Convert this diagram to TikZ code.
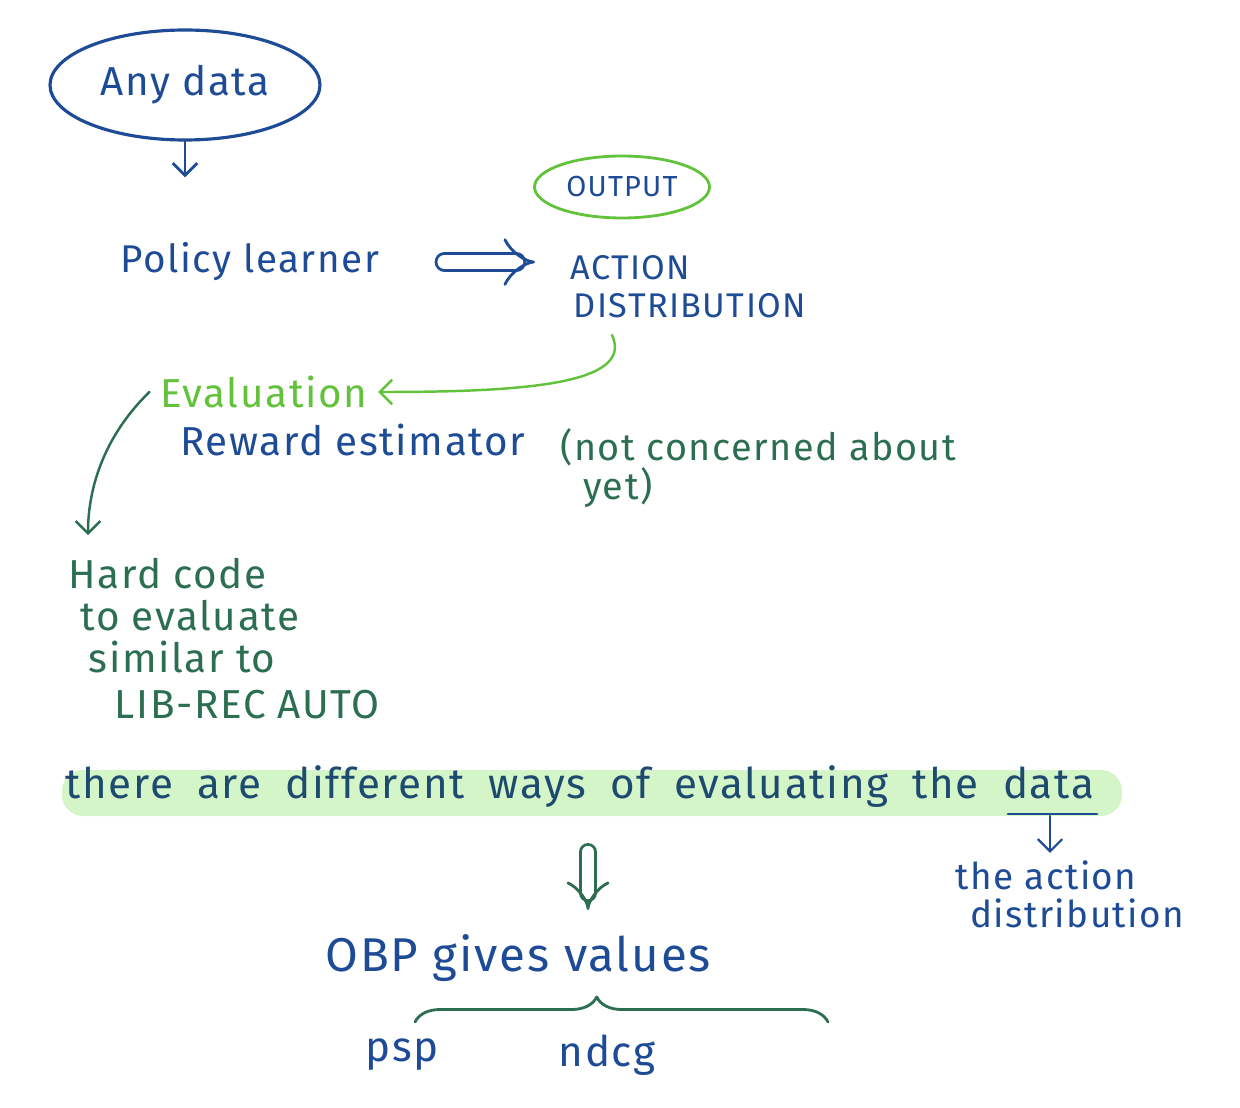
\documentclass[tikz,border=0pt]{standalone}
\usepackage{fontspec}
\setmainfont{Fira Sans}[LetterSpace=4]
\usetikzlibrary{positioning,shapes.geometric,arrows.meta,decorations.pathreplacing}
\definecolor{inkblue}{HTML}{1E4B96}
\definecolor{inklime}{HTML}{62C23C}
\definecolor{inkdark}{HTML}{2B6E50}
\definecolor{hilite}{HTML}{D3F5C8}
\definecolor{inknavy}{HTML}{1F4A70}

\begin{document}
\begin{tikzpicture}[
  x=0.02cm, y=-0.02cm,
  note/.style={inner sep=0pt, anchor=west, align=left},
  blue/.style={note, text=inkblue},
  lime/.style={note, text=inklime},
  dark/.style={note, text=inkdark},
  ink/.style={line width=1.6pt, line cap=round, line join=round},
  arr/.style={ink, -{Straight Barb[length=7pt,width=14pt]}},
  bigarr/.style={ink, double, double distance=8pt, -{Implies[length=10pt]}}
]
\useasboundingbox (0,0) rectangle (1240,1108);

% top part
\node[ellipse, draw=inkblue, ink, line width=1.8pt, minimum width=5.4cm,
      minimum height=2.2cm, text=inkblue, font=\fontsize{23}{27}\selectfont]
      (anydata) at (185,85) {Any data};
\node[blue, font=\fontsize{22}{26}\selectfont] (policy) at (120,262) {Policy learner};
\node[ellipse, draw=inklime, ink, minimum width=3.5cm, minimum height=1.24cm,
      text=inkblue, font=\fontsize{16.5}{20}\selectfont]
      (output) at (622,187) {OUTPUT};
\node[blue, font=\fontsize{19.5}{21.5}\selectfont] (action) at (570,287)
      {ACTION\\\hspace*{2pt}DISTRIBUTION};

\draw[arr, draw=inkblue, shorten >=1.3cm] (anydata.south) -- (anydata.south |- policy.north);
\draw[bigarr, draw=inkblue, shorten <=1.3cm, shorten >=0.7cm]
  (policy.east) -- (policy.east -| action.west);

% evaluation
\node[lime, font=\fontsize{23}{26}\selectfont] (evaluation) at (160,392) {Evaluation};
\node[blue, font=\fontsize{23}{26}\selectfont] (reward) at (180,440) {Reward estimator};
\node[dark, font=\fontsize{21.5}{21}\selectfont, anchor=north west] (notyet) at (560,428)
      {(not concerned about\\\hspace*{0.6em}yet)};
\coordinate (distfoot) at (612,335);
\draw[arr, draw=inklime, line width=1.4pt] (distfoot) .. controls (635,385) and (520,392) .. ([xshift=6pt]evaluation.east);

\node[dark, font=\fontsize{23}{24}\selectfont, anchor=north west] (hardcode) at (68,558)
      {Hard code\\\hspace*{0.3em}to evaluate\\\hspace*{0.5em}similar to\\[2pt]\hspace*{1.15em}LIB-REC AUTO};
\coordinate (hardtop) at (88,535);
\draw[arr, draw=inkdark, line width=1.4pt] ([xshift=-6pt]evaluation.west) .. controls (110,430) and (88,480) .. (hardtop);

% highlighted sentence
\fill[hilite, rounded corners=0.42cm] (62,770) rectangle (1122,816);
\node[note, text=inknavy, font=\fontsize{24}{28}\selectfont] (ways) at (65,787)
      {\spaceskip=0.57em there are different ways of evaluating the data};
\coordinate (ulineleft) at (1008,814);
\coordinate (ulineright) at (1097,814);
\draw[ink, draw=inkblue] (ulineleft) -- (ulineright);
\coordinate (ulinemid) at (1050,816);
\node[blue, font=\fontsize{21}{22}\selectfont, anchor=north west] (theaction) at (955,860)
      {the action\\\hspace*{0.4em}distribution};
\draw[arr, draw=inkblue, line width=1.3pt, shorten >=4pt] (ulinemid) -- (ulinemid |- theaction.north);

% OBP
\coordinate (hollowtop) at (588,852);
\coordinate (hollowtip) at (588,910);
\draw[ink, double=white, draw=inkdark, double distance=7pt, -{Implies[length=10pt]}] (hollowtop) -- (hollowtip);
\node[blue, font=\fontsize{27}{30}\selectfont] (obp) at (325,958) {OBP gives values};
\coordinate (braceleft) at (415,1022);
\coordinate (braceright) at (828,1022);
\draw[ink, draw=inkdark, decorate, decoration={brace, amplitude=0.5cm, aspect=0.44}]
  (braceleft) -- (braceright);
\node[blue, anchor=center, font=\fontsize{24}{28}\selectfont] (psp) at (402,1055) {psp};
\node[blue, anchor=center, font=\fontsize{24}{28}\selectfont] (ndcg) at (607,1055) {ndcg};
\end{tikzpicture}
\end{document}
